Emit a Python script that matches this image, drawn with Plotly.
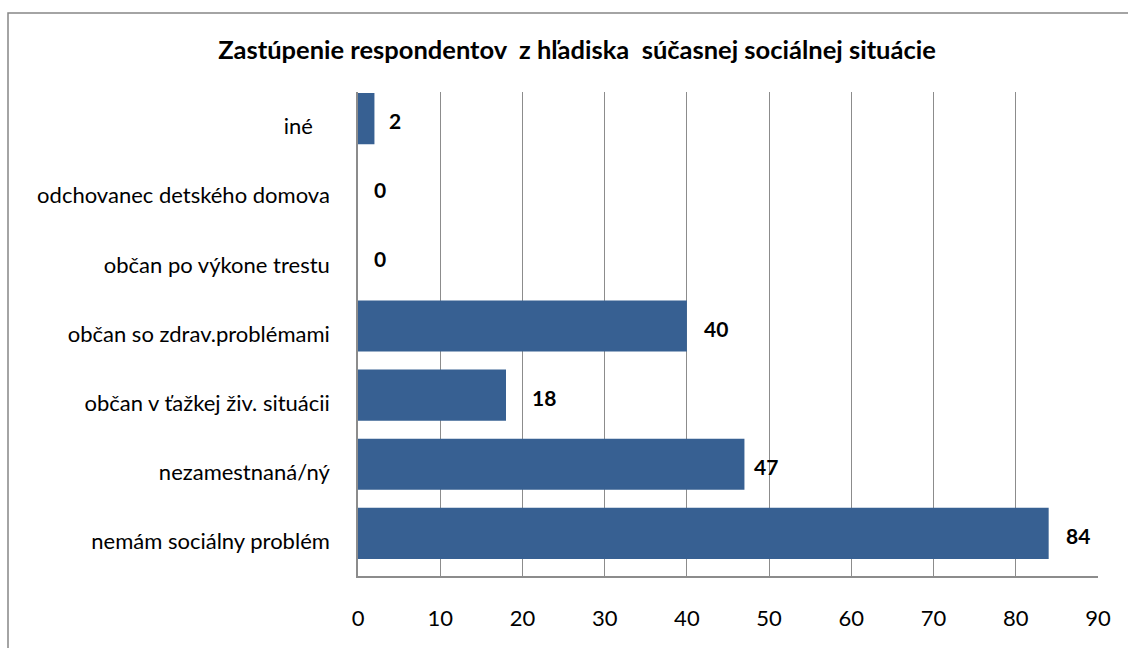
import plotly.graph_objects as go

# Categories listed from top to bottom as they appear on the chart
categories = [
    "iné\u00a0\u00a0\u00a0",
    "odchovanec detského domova",
    "občan po výkone trestu",
    "občan so zdrav.problémami",
    "občan v ťažkej živ. situácii",
    "nezamestnaná/ný",
    "nemám sociálny problém",
]
counts = [2, 0, 0, 40, 18, 47, 84]
x_ticks = [0, 10, 20, 30, 40, 50, 60, 70, 80, 90]
label_shift = [13, 14, 14, 15, 24, 8, 15]

title_text = "Zastúpenie respondentov  z hľadiska  súčasnej sociálnej situácie"

FONT = "Lato"
BAR_COLOR = "#376092"
GRID = "#8c8c8c"

W, H = 1128, 648
ML, MR, MT, MB = 358, 30, 92, 72
pw, ph = W - ML - MR, H - MT - MB

fig = go.Figure()
fig.add_trace(go.Bar(
    x=counts,
    y=categories,
    orientation="h",
    marker=dict(color=BAR_COLOR, line=dict(width=0)),
    width=0.74,
    offset=-0.254,
    hoverinfo="x+y",
))

for cat, val, dx in zip(categories, counts, label_shift):
    fig.add_annotation(
        x=val, y=cat, text=f"<b>{val}</b>", showarrow=False,
        xanchor="left", yanchor="middle", xshift=dx, yshift=6,
        font=dict(family=FONT, size=21, color="#000000"),
    )

# Outer chart frame
fig.add_shape(
    type="rect", xref="paper", yref="paper",
    x0=(8 - ML) / pw, x1=(W + 4 - ML) / pw,
    y0=(MT + ph - (H + 4)) / ph, y1=(MT + ph - 13) / ph,
    line=dict(color="#868686", width=1.5), fillcolor="rgba(0,0,0,0)",
    layer="below",
)

fig.update_layout(
    width=W, height=H,
    margin=dict(l=ML, r=MR, t=MT, b=MB),
    paper_bgcolor="white", plot_bgcolor="white",
    showlegend=False,
    title=dict(
        text=f"<b>{title_text}</b>", x=577 / W, xanchor="center",
        y=1 - 50 / H, yanchor="middle",
        font=dict(family=FONT, size=25.5, color="#000000"),
    ),
    font=dict(family=FONT, color="#000000"),
)

fig.update_xaxes(
    range=[0, 90], tickvals=x_ticks, ticks="",
    showgrid=True, gridcolor=GRID, gridwidth=1.3,
    showline=True, linecolor=GRID, linewidth=1.5,
    zeroline=False,
    tickfont=dict(family=FONT, size=22, color="#000000"),
    ticklabelstandoff=22,
)
fig.update_yaxes(
    categoryorder="array", categoryarray=list(reversed(categories)),
    range=[-0.5, 6.5], ticks="",
    showgrid=False, showline=True, linecolor=GRID, linewidth=1.5,
    tickfont=dict(family=FONT, size=22, color="#000000"),
    ticklabelstandoff=22,
)

fig.write_html("out.html")
